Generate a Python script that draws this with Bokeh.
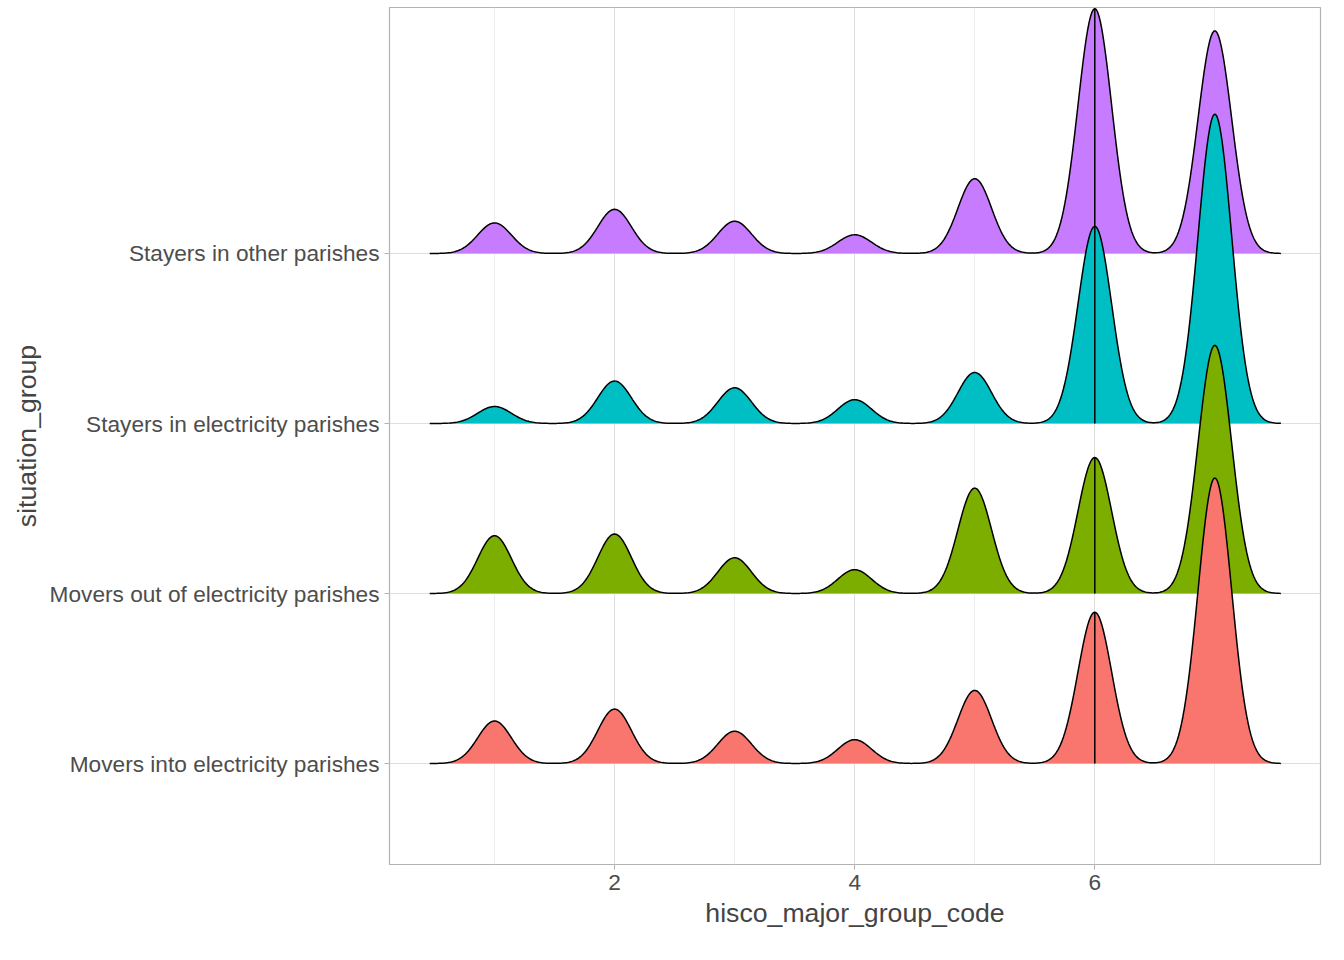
from bokeh.plotting import figure
from bokeh.models import FixedTicker, Range1d
from bokeh.embed import file_html
from bokeh.resources import INLINE
import numpy as np

groups = ["Movers into electricity parishes", "Movers out of electricity parishes",
          "Stayers in electricity parishes", "Stayers in other parishes"]
codes = [1, 2, 3, 4, 5, 6, 7]
# peak heights of each code's bump (in ridge units, 1 = spacing between ridges)
movers_into = [0.25, 0.32, 0.19, 0.14, 0.43, 0.89, 1.68]
movers_out = [0.34, 0.35, 0.21, 0.14, 0.62, 0.80, 1.46]
stayers_elec = [0.10, 0.25, 0.21, 0.14, 0.30, 1.16, 1.82]
stayers_other = [0.18, 0.26, 0.19, 0.11, 0.44, 1.44, 1.31]
heights = [movers_into, movers_out, stayers_elec, stayers_other]
colors = ["#F8766D", "#7CAE00", "#00BFC4", "#C77CFF"]
median_code = 6

p = figure(width=1328, height=944, output_backend="svg", toolbar_location=None,
           x_range=Range1d(0.125, 7.88), y_range=Range1d(0.406, 5.447),
           min_border_left=389, min_border_right=8, min_border_top=7, min_border_bottom=80,
           x_axis_label="hisco_major_group_code", y_axis_label="situation_group")

xs = np.linspace(0.46, 7.55, 600)
sig = 0.14

def dens(x, h):
    return sum(hh * np.exp(-0.5 * ((x - c) / sig) ** 2) for c, hh in zip(codes, h))

for i in range(3, -1, -1):
    base = i + 1
    y = base + dens(xs, heights[i])
    px = np.concatenate([xs, xs[::-1]])
    py = np.concatenate([y, np.full(len(xs), base)])
    p.patch(px, py, fill_color=colors[i], line_color=None)
    p.line(xs, y, line_color="black", line_width=1.5)
    p.segment(median_code, base, median_code, base + dens(np.array([median_code]), heights[i])[0],
              line_color="black", line_width=1.5)

p.xaxis.ticker = FixedTicker(ticks=[2, 4, 6], minor_ticks=[1, 3, 5, 7])
p.yaxis.ticker = FixedTicker(ticks=[1, 2, 3, 4])
p.yaxis.major_label_overrides = {i + 1: g for i, g in enumerate(groups)}
for ax in (p.xaxis, p.yaxis):
    ax.axis_line_color = None
    ax.major_tick_line_color = "#b3b3b3"
    ax.major_tick_out = 5
    ax.major_tick_in = 0
    ax.minor_tick_line_color = None
    ax.major_label_text_font_size = "17pt"
    ax.major_label_text_color = "#4d4d4d"
    ax.major_label_text_font = "Liberation Sans"
    ax.axis_label_text_font_size = "20pt"
    ax.axis_label_text_font_style = "normal"
    ax.axis_label_text_font = "Liberation Sans"
p.xgrid.grid_line_color = "#dedede"
p.xgrid.minor_grid_line_color = "#ededed"
p.ygrid.grid_line_color = "#dedede"
p.outline_line_color = "#b3b3b3"
p.outline_line_width = 1.2

open("out.html", "w").write(file_html(p, INLINE))
